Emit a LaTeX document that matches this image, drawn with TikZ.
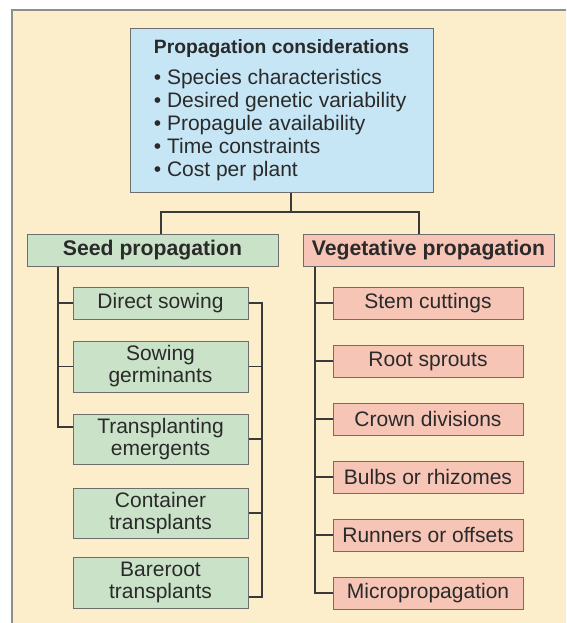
\documentclass[tikz,border=0pt]{standalone}
\usepackage{fontspec}
\setmainfont{Liberation Sans}
\definecolor{panel}{HTML}{FCEECA}
\definecolor{panelline}{HTML}{8E8E8E}
\definecolor{considblue}{HTML}{C6E6F6}
\definecolor{seedgreen}{HTML}{CAE3C8}
\definecolor{vegpink}{HTML}{F6C5B6}
\definecolor{boxline}{HTML}{6E6E6E}
\definecolor{wire}{HTML}{3A3A3A}
\definecolor{ink}{HTML}{2A2A2A}

\begin{document}
\begin{tikzpicture}[x=1pt,y=-1pt,
  box/.style={draw=boxline,line width=1pt,inner sep=0pt,text=ink,align=center,
    font=\fontsize{21}{22}\selectfont},
  seedbox/.style={box,fill=seedgreen,minimum width=175pt},
  vegbox/.style={box,fill=vegpink,minimum width=190pt,minimum height=32pt},
  headbox/.style={box,minimum width=251pt,minimum height=32pt,
    font=\fontsize{21.2}{22}\selectfont\bfseries},
  link/.style={draw=wire,line width=1.3pt}]
\path[use as bounding box] (0,0) rectangle (566,623);
% backdrop
\fill[panel] (12,10) rectangle (566,623);
\draw[panelline,line width=1.5pt] (12,623)--(12,10)--(566,10);

% top box
\node[box,fill=considblue,minimum width=303pt,minimum height=163pt,
  font=\fontsize{21}{23}\selectfont] (consid) at (281.5,110.5)
  {\begin{tabular}{@{}l@{}}
   {\fontsize{19.3}{23}\selectfont\bfseries Propagation considerations}\\[8pt]
   • Species characteristics\\
   • Desired genetic variability\\
   • Propagule availability\\
   • Time constraints\\
   • Cost per plant
   \end{tabular}};

% the two branches
\node[headbox,fill=seedgreen] (seed) at (152.5,250) {Seed propagation};
\node[headbox,fill=vegpink] (veg) at (428.5,250) {Vegetative propagation};

\coordinate (split) at (291,212);
\coordinate (seedtop) at (161,212);
\coordinate (vegtop) at (419,212);
\draw[link] (split |- consid.south) -- (split);
\draw[link] (seedtop |- seed.north) -- (seedtop) -- (vegtop) -- (vegtop |- veg.north);

% seed side
\node[seedbox,minimum height=32pt] (direct) at (160.5,303) {Direct sowing};
\node[seedbox,minimum height=51pt] (germ) at (160.5,366.5) {Sowing\\germinants};
\node[seedbox,minimum height=50pt] (transp) at (160.5,439) {Transplanting\\emergents};
\node[seedbox,minimum height=50pt] (contain) at (160.5,513) {Container\\transplants};
\node[seedbox,minimum height=51pt] (bare) at (160.5,582.5) {Bareroot\\transplants};

\coordinate (seedtrunk) at (58,427);
\coordinate (seedback) at (262,597);
\draw[link] (seedtrunk |- seed.south) -- (seedtrunk) -- (transp.west |- seedtrunk);
\draw[link] (seedtrunk |- direct.west) -- (direct.west);
\draw[link] (seedtrunk |- germ.west) -- (germ.west);
\draw[link] (direct.east) -| (seedback) -- (bare.east |- seedback);
\foreach \n in {germ,transp,contain}
  \draw[link] (\n.east) -- (seedback |- \n.east);

% vegetative side
\node[vegbox] (stem) at (428,303) {Stem cuttings};
\node[vegbox] (root) at (428,361) {Root sprouts};
\node[vegbox] (crown) at (428,419) {Crown divisions};
\node[vegbox] (bulb) at (428,477) {Bulbs or rhizomes};
\node[vegbox] (runner) at (428,535) {Runners or offsets};
\node[vegbox] (micro) at (428,593) {Micropropagation};

\coordinate (vegtrunk) at (315,266);
\draw[link] (vegtrunk |- veg.south) |- (micro.west);
\foreach \n in {stem,root,crown,bulb,runner}
  \draw[link] (vegtrunk |- \n.west) -- (\n.west);
\end{tikzpicture}
\end{document}
